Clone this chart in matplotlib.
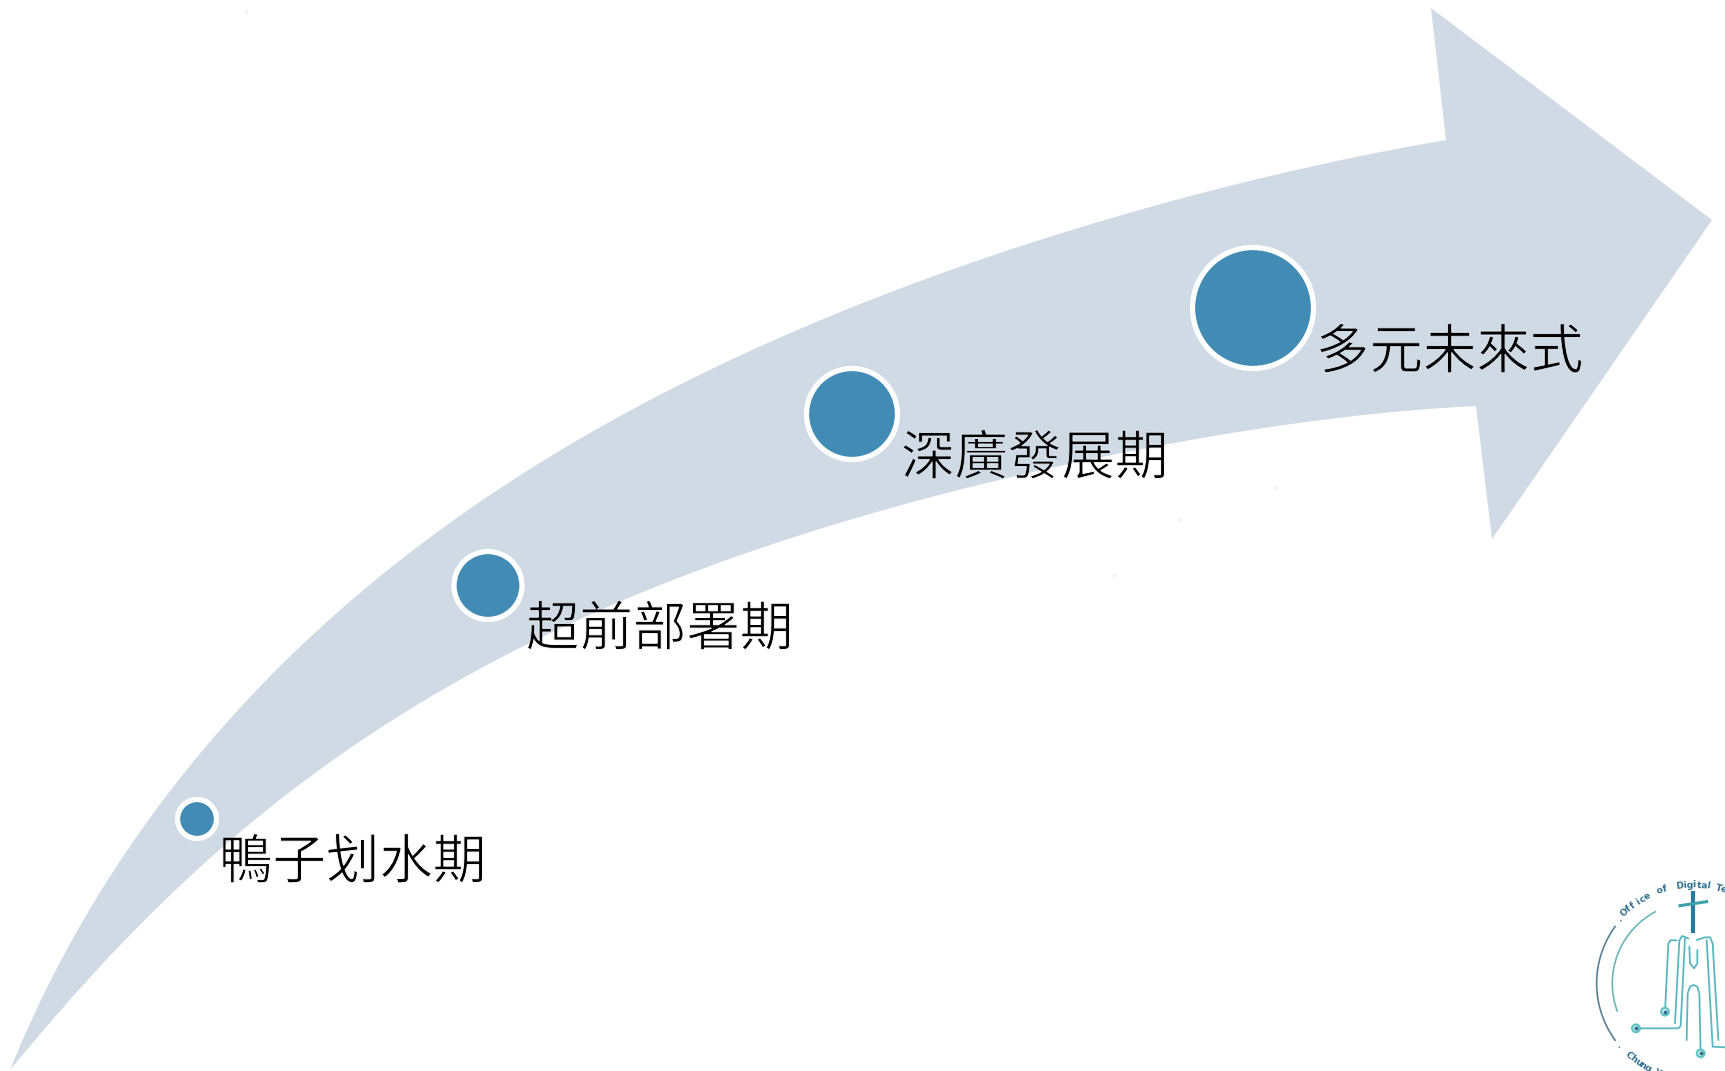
#!/usr/bin/python3
# -*- coding: utf-8 -*-
# Growing arrow with four stages and the office logo in the corner

import numpy as np
import matplotlib
matplotlib.use("Agg")
import matplotlib.pyplot as plt
import matplotlib.patheffects as pe
from matplotlib.patches import Polygon, Circle

### Data (picture pixels)

stage_labels = ["鴨子划水期", "超前部署期", "深廣發展期", "多元未來式"]
stage_x = [197, 488, 852, 1253]
stage_y = [819, 585.5, 414, 308]
stage_r = [17, 31.5, 43, 58]
label_x = [219, 526, 901, 1316]
label_y = [863, 630, 459, 353]

upper_edge = [(10, 1070), (50, 983), (100, 890), (163, 800), (257, 693), (353, 600),
              (400, 557), (500, 487), (633, 410), (800, 331), (1023, 243), (1246, 183), (1446, 140)]
lower_edge = [(10, 1070), (100, 967), (187, 880), (267, 810), (383, 723), (500, 660),
              (633, 597), (800, 535), (1023, 473), (1179, 443), (1476, 406)]
head = [(1431, 8), (1712, 220), (1492, 539)]

# faint specks on the white background
speck_x = [246, 1114, 1179, 1275]
speck_y = [11, 575, 520, 487]

# logo, in coordinates of a 3x crop starting at (1560, 860)
logo_lines = [
    [(315, 455), (325, 252), (331, 241), (350, 241)],
    [(345, 490), (358, 242), (366, 228), (385, 235)],
    [(228, 505), (355, 505), (362, 498), (375, 235)],
    [(380, 540), (383, 400), (390, 380), (400, 375), (412, 380), (418, 400), (422, 580)],
    [(388, 260), (390, 310), (402, 325), (412, 310), (412, 270)],
    [(410, 240), (435, 232), (450, 232), (458, 250), (475, 540)],
    [(440, 240), (458, 560), (495, 562)],
]
logo_nodes = [(315, 455), (228, 505), (422, 580)]
# word, angle of first letter, step per letter (degrees)
logo_words_top = [(".", 139, 0), ("Office", 134, -3.2), ("of", 110, -3.2),
                  ("Digital", 98, -2.8), ("Te", 75, -3.0)]
logo_words_bottom = [(".", 220, 0), ("Chung", 228, 3.5), ("Y", 248, 0)]

### Figure

fig = plt.figure(figsize=(17.25, 10.71), dpi=100)
ax = fig.add_axes([0, 0, 1, 1])
ax.set_xlim(0, 1725)
ax.set_ylim(1071, 0)
ax.axis("off")

### Arrow

def smooth_edge(points):
    # smooth curve through the read points, with the ends held in place
    pts = np.array(points, dtype=float)
    t = np.r_[0, np.cumsum(np.hypot(*np.diff(pts, axis=0).T))]
    t /= t[-1]
    w = np.ones(len(t))
    w[0] = w[-1] = 50
    tt = np.linspace(0, 1, 120)
    return np.c_[np.polyval(np.polyfit(t, pts[:, 0], 5, w=w), tt),
                 np.polyval(np.polyfit(t, pts[:, 1], 5, w=w), tt)]

outline = np.vstack([smooth_edge(upper_edge), head, smooth_edge(lower_edge)[::-1]])
band = Polygon(outline, closed=True, fc="#D0DAE5", ec="none", zorder=1)
ax.add_patch(band)

ax.scatter(speck_x, speck_y, s=8, color="#F2F2F2", linewidths=0, zorder=1)

### Stages

cjk = ["Noto Sans CJK TC", "DejaVu Sans"]

for name, x, y, r, lx, ly in zip(stage_labels, stage_x, stage_y, stage_r, label_x, label_y):
    ax.add_patch(Circle((x, y), r + 2.5, fc="#428BB5", ec="white", lw=3.8, zorder=2))
    # the target font is lighter than Regular: eat the outline with the background colour
    ax.text(lx, ly, name, fontsize=38.5, family=cjk, color="black", ha="left", va="center",
            zorder=3, path_effects=[pe.Stroke(linewidth=0.7, foreground="white")])
    over = ax.text(lx, ly, name, fontsize=38.5, family=cjk, color="black", ha="left", va="center",
                   zorder=4, clip_on=True, path_effects=[pe.Stroke(linewidth=0.7, foreground="#D0DAE5")])
    over.set_clip_path(band)

### Logo

def lx_(v):
    return 1560 + v / 3

def ly_(v):
    return 860 + v / 3

for line in logo_lines:
    xs = [lx_(p[0]) for p in line]
    ys = [ly_(p[1]) for p in line]
    ax.plot(xs, ys, color="#48B0B6", lw=1.3, zorder=2, solid_capstyle="round", alpha=0.9)

for nx, ny in logo_nodes:
    ax.add_patch(Circle((lx_(nx), ly_(ny)), 3.8, fc="#DDF1F1", ec="#62C4C4", lw=1.6, zorder=3))
    ax.plot(lx_(nx), ly_(ny), "o", ms=1.8, color="#2E6F8E", zorder=4)

# cross
ax.plot([lx_(400), lx_(400)], [ly_(100), ly_(212)], color="#277C9B", lw=3.0, zorder=2)
ax.plot([lx_(360), lx_(440)], [ly_(137), ly_(125)], color="#3E9FA8", lw=2.2, zorder=2)

# arcs round the logo
cx, cy = 400, 370
t = np.radians(np.linspace(144, 216, 60))
ax.plot(lx_(cx + 290 * np.cos(t)), ly_(cy - 290 * np.sin(t)), color="#5B7F94", lw=1.2, zorder=2)
t = np.radians(np.linspace(118, 200, 60))
ax.plot(lx_(cx + 243 * np.cos(t)), ly_(cy - 243 * np.sin(t)), color="#6DB5B8", lw=1.2, zorder=2)

# letters on the ring
def ring_letter(ch, a, rot, rad):
    ra = np.radians(a)
    ax.text(lx_(cx + rad * np.cos(ra)), ly_(cy - rad * np.sin(ra)), ch, fontsize=6.6,
            rotation=rot, ha="center", va="center", color="#2F6F8E", weight="bold",
            rotation_mode="anchor", clip_on=True, zorder=2)

for word, a0, step in logo_words_top:
    for i, ch in enumerate(word):
        a = a0 + i * step
        ring_letter(ch, a, a - 90, 295)
for word, a0, step in logo_words_bottom:
    for i, ch in enumerate(word):
        a = a0 + i * step
        ring_letter(ch, a, a + 90, 290)

fig.savefig("out.png", dpi=100)
